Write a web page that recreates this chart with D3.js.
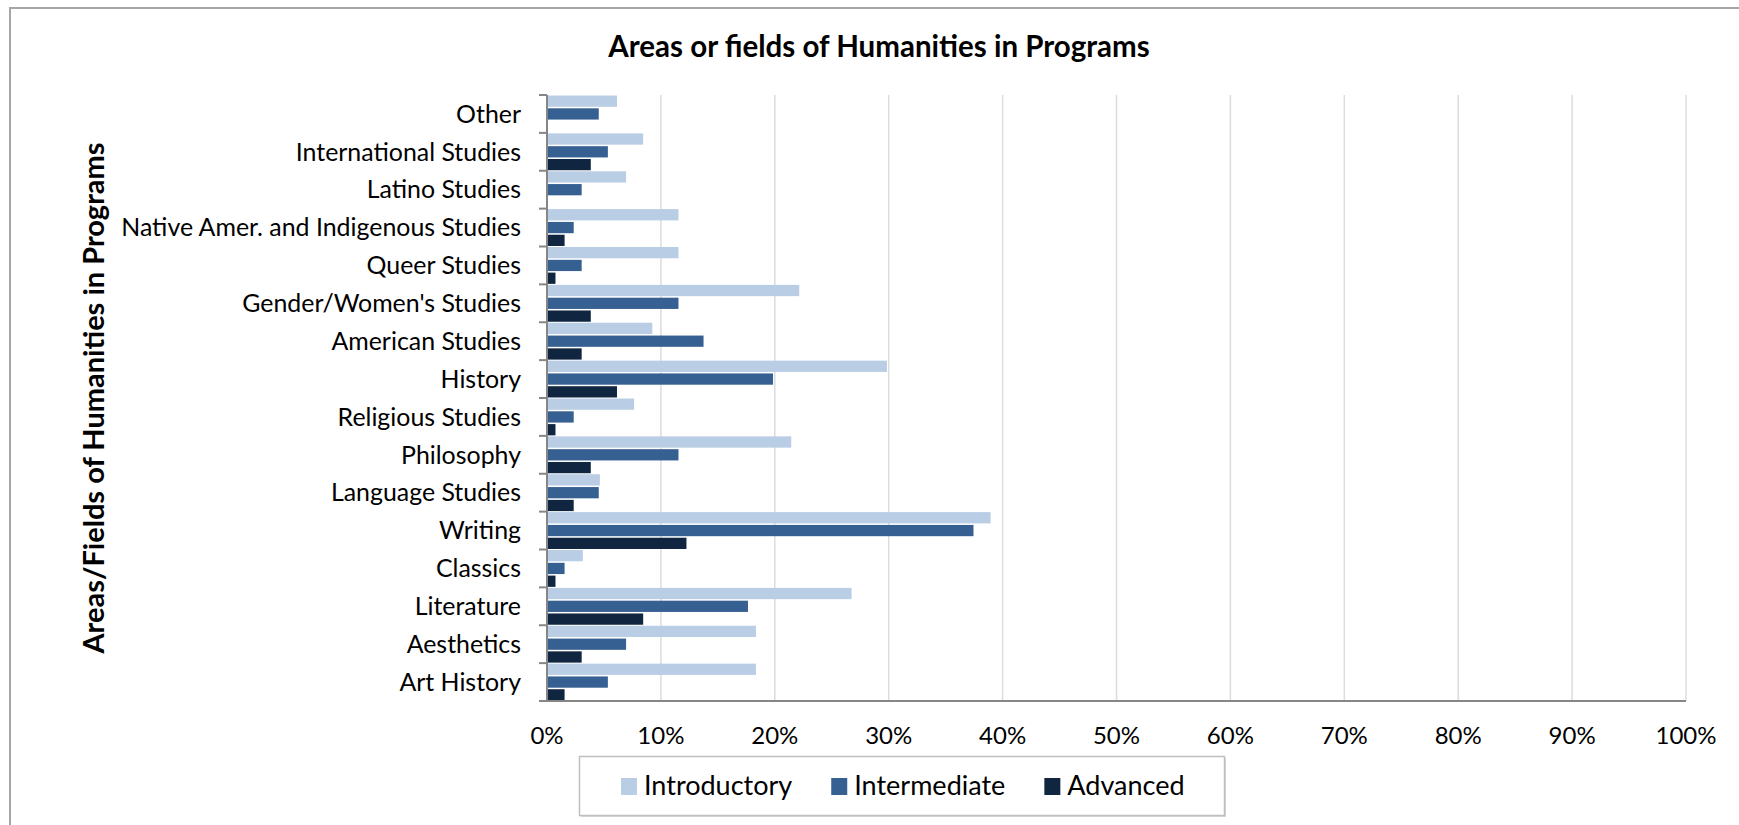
<!DOCTYPE html>
<html>
<head>
<meta charset="utf-8">
<script src="https://cdn.jsdelivr.net/npm/d3@7"></script>
<style>
  html, body { margin: 0; padding: 0; background: #fff; }
  svg { display: block; font-family: Lato, "Open Sans", sans-serif; }
</style>
</head>
<body>
<svg id="chart" width="1739" height="825"></svg>
<script>
// ---- data (display order, top to bottom) ----
const categories = [
  "Other", "International Studies", "Latino Studies",
  "Native Amer. and Indigenous Studies", "Queer Studies",
  "Gender/Women's Studies", "American Studies", "History",
  "Religious Studies", "Philosophy", "Language Studies", "Writing",
  "Classics", "Literature", "Aesthetics", "Art History"
];
const introductory = [6.1, 8.4, 6.9, 11.5, 11.5, 22.1, 9.2, 29.8, 7.6, 21.4, 4.6, 38.9, 3.1, 26.7, 18.3, 18.3];
const intermediate = [4.5, 5.3, 3.0, 2.3, 3.0, 11.5, 13.7, 19.8, 2.3, 11.5, 4.5, 37.4, 1.5, 17.6, 6.9, 5.3];
const advanced     = [0,   3.8, 0,   1.5, 0.7, 3.8,  3.0,  6.1,  0.7, 3.8,  2.3, 12.2, 0.7, 8.4,  3.0, 1.5];
const seriesNames = ["Introductory", "Intermediate", "Advanced"];
const xTicks = [0, 10, 20, 30, 40, 50, 60, 70, 80, 90, 100];
const title = "Areas or fields of Humanities in Programs";
const yTitle = "Areas/Fields of Humanities in Programs";

const seriesValues = [introductory, intermediate, advanced];
const colors = ["#b9cde5", "#366092", "#10253f"];

const svg = d3.select("#chart");

// outer frame
svg.append("rect")
  .attr("x", 10).attr("y", 8).attr("width", 1800).attr("height", 900)
  .attr("fill", "none").attr("stroke", "#a6a6a6").attr("stroke-width", 2);

const x = d3.scaleLinear().domain([0, 100]).range([547, 1686]);
const y = d3.scaleBand().domain(categories).range([95, 701]).padding(0);
const sub = d3.scaleBand().domain(seriesNames).range([0, y.bandwidth()])
  .paddingInner(0.12).paddingOuter(0.04);
const color = d3.scaleOrdinal().domain(seriesNames).range(colors);

// title
svg.append("text")
  .attr("x", 879).attr("y", 57)
  .attr("text-anchor", "middle")
  .attr("font-weight", "bold").attr("font-size", 29.5)
  .attr("fill", "#000")
  .text(title);

// gridlines
svg.append("g").selectAll("line")
  .data(xTicks.filter(d => d > 0))
  .join("line")
  .attr("x1", d => x(d)).attr("x2", d => x(d))
  .attr("y1", 95).attr("y2", 701)
  .attr("stroke", "#dcdcdc").attr("stroke-width", 1.5);

// bars
const rows = categories.map((c, i) => ({ c, vals: seriesNames.map((s, k) => ({ s, v: seriesValues[k][i] })) }));
const gRows = svg.append("g").selectAll("g")
  .data(rows).join("g")
  .attr("transform", d => `translate(0,${y(d.c)})`);
gRows.selectAll("rect")
  .data(d => d.vals.filter(v => v.v > 0))
  .join("rect")
  .attr("x", x(0) + 0.5)
  .attr("y", d => sub(d.s))
  .attr("width", d => x(d.v) - x(0))
  .attr("height", sub.bandwidth())
  .attr("fill", d => color(d.s));

// y axis line + ticks at band boundaries
const boundaries = categories.map(c => y(c)).concat([y.range()[1]]);
svg.append("line")
  .attr("x1", 547).attr("x2", 547).attr("y1", 95).attr("y2", 702)
  .attr("stroke", "#868686").attr("stroke-width", 2);
svg.append("g").selectAll("line")
  .data(boundaries).join("line")
  .attr("x1", 539).attr("x2", 547)
  .attr("y1", d => d).attr("y2", d => d)
  .attr("stroke", "#868686").attr("stroke-width", 2);

// x axis line
svg.append("line")
  .attr("x1", 546).attr("x2", 1686).attr("y1", 701).attr("y2", 701)
  .attr("stroke", "#868686").attr("stroke-width", 2);

// category labels
svg.append("g").selectAll("text")
  .data(categories).join("text")
  .attr("x", 521)
  .attr("y", d => y(d) + y.bandwidth() / 2)
  .attr("dy", "0.35em")
  .attr("text-anchor", "end")
  .attr("font-size", 24.9)
  .attr("fill", "#000")
  .text(d => d);

// x tick labels
svg.append("g").selectAll("text")
  .data(xTicks).join("text")
  .attr("x", d => x(d))
  .attr("y", 744)
  .attr("text-anchor", "middle")
  .attr("font-size", 24)
  .attr("fill", "#000")
  .text(d => d + "%");

// y axis title
svg.append("text")
  .attr("transform", "translate(104,398) rotate(-90)")
  .attr("text-anchor", "middle")
  .attr("font-weight", "bold").attr("font-size", 29)
  .attr("fill", "#000")
  .text(yTitle);

// legend
const lg = svg.append("g");
lg.append("rect")
  .attr("x", 581).attr("y", 758).attr("width", 645).attr("height", 59)
  .attr("fill", "#d9d9d9");
lg.append("rect")
  .attr("x", 579.5).attr("y", 756.5).attr("width", 645).attr("height", 59)
  .attr("fill", "#fff").attr("stroke", "#bfbfbf").attr("stroke-width", 1.5);
let lx = 621;
seriesNames.forEach((s, i) => {
  lg.append("rect")
    .attr("x", lx).attr("y", 778).attr("width", 16).attr("height", 17)
    .attr("fill", color(s));
  const t = lg.append("text")
    .attr("x", lx + 23).attr("y", 795)
    .attr("font-size", 27).attr("fill", "#000")
    .text(s);
  lx = lx + 23 + t.node().getComputedTextLength() + 39;
});
</script>
</body>
</html>
